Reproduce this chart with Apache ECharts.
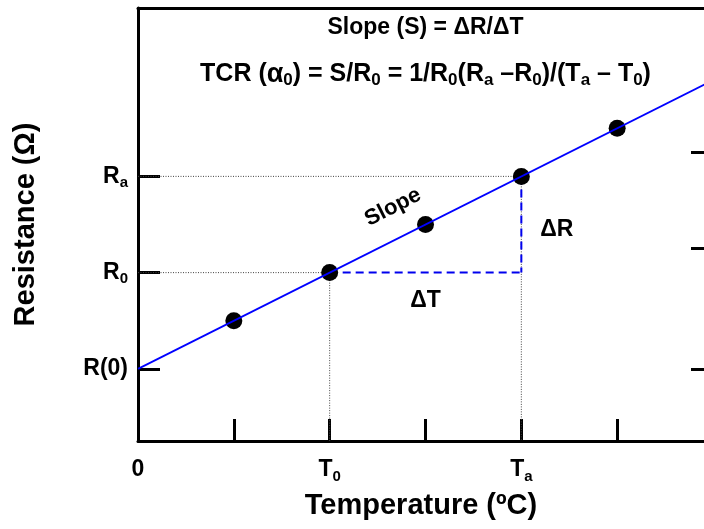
<!DOCTYPE html>
<html>
<head>
<meta charset="utf-8">
<script src="https://cdn.jsdelivr.net/npm/echarts@6/dist/echarts.min.js"></script>
<style>
  html, body { margin: 0; padding: 0; background: #fff; }
  #chart { width: 704px; height: 529px; }
</style>
</head>
<body>
<div id="chart"></div>
<script>
// Measured resistance at each temperature step
var temps = [1, 2, 3, 4, 5];
var resistances = [1.25, 1.75, 2.25, 2.75, 3.25];

// Linear fit end points
var fitTemps = [0, 6];
var fitResistances = [0.75, 3.75];

// Reference temperatures and resistances
var T0 = 2, Ta = 4;
var R0 = 1.75, Ra = 2.75, Rzero = 0.75;

// Tick positions and their labels
var xTicks = [0, 1, 2, 3, 4, 5, 6];
var xLabelValues = [0, T0, Ta];
var xLabelText = ['{m|0}', '{m|T}{s|0}', '{m|T}{s|a}'];
var yLabelValues = [Rzero, R0, Ra];
var yLabelText = ['{m|R(0)}', '{m|R}{s|0}', '{m|R}{s|a}'];
var rightTicks = [0.75, 2.0, 3.0];

var FONT = 'Liberation Sans, Arial, sans-serif';
var subRich = {
  m: { fontFamily: FONT, fontSize: 23, fontWeight: 'bold', color: '#000', lineHeight: 28 },
  s: { fontFamily: FONT, fontSize: 15, fontWeight: 'bold', color: '#000', lineHeight: 14, verticalAlign: 'bottom' }
};
var formulaRich = {
  g: { fontFamily: FONT, fontSize: 27, fontWeight: 'bold', color: '#000', lineHeight: 28 },
  s: { fontFamily: FONT, fontSize: 17, fontWeight: 'bold', color: '#000', lineHeight: 15, verticalAlign: 'bottom' }
};

function pairs(xs, ys) { return xs.map(function (x, i) { return [x, ys[i]]; }); }

var chart = echarts.init(document.getElementById('chart'), null, { renderer: 'canvas' });

var axisLineStyle = { color: '#000', width: 3 };
var guideStyle = { color: '#444', width: 1, type: [1, 1.5] };
var legStyle = { color: '#0000ee', width: 2, type: [8, 5] };

function noteSeries(x, y, text, extra) {
  return {
    type: 'scatter',
    symbolSize: 0,
    silent: true,
    z: 5,
    itemStyle: { opacity: 1 },
    data: [[x, y]],
    label: Object.assign({
      show: true,
      position: 'inside',
      formatter: text,
      fontFamily: FONT,
      fontSize: 23,
      fontWeight: 'bold',
      color: '#000',
      lineHeight: 28,
      rich: subRich
    }, extra || {})
  };
}

function guide(a, b, style, z) {
  return { type: 'line', symbol: 'none', silent: true, z: z, data: [a, b], lineStyle: style };
}

var option = {
  animation: false,
  backgroundColor: '#fff',
  grid: { left: 138, right: 0, top: 8, bottom: 88 },
  xAxis: [{
    type: 'value',
    min: 0, max: 5.906,
    name: 'Temperature (ºC)',
    nameLocation: 'middle',
    nameGap: 50,
    nameTextStyle: { fontFamily: FONT, fontSize: 29, fontWeight: 'bold', color: '#000' },
    axisLine: { show: true, lineStyle: axisLineStyle },
    axisTick: { show: true, inside: true, length: 22, customValues: xTicks, lineStyle: { color: '#000', width: 3 } },
    axisLabel: {
      show: true,
      margin: 15,
      customValues: xLabelValues,
      formatter: function (v) { return xLabelText[xLabelValues.indexOf(v)]; },
      fontFamily: FONT, fontSize: 23, fontWeight: 'bold', color: '#000',
      rich: subRich
    },
    splitLine: { show: false }
  }, {
    type: 'value',
    position: 'top',
    min: 0, max: 5.906,
    axisLine: { show: true, onZero: false, lineStyle: axisLineStyle },
    axisTick: { show: false },
    axisLabel: { show: false },
    splitLine: { show: false }
  }],
  yAxis: [{
    type: 'value',
    min: 0, max: 4.5,
    name: 'Resistance (Ω)',
    nameLocation: 'middle',
    nameGap: 98,
    nameTextStyle: { fontFamily: FONT, fontSize: 29, fontWeight: 'bold', color: '#000' },
    axisLine: { show: true, lineStyle: axisLineStyle },
    axisTick: { show: true, inside: true, length: 22, customValues: yLabelValues, lineStyle: { color: '#000', width: 3 } },
    axisLabel: {
      show: true,
      margin: 10,
      customValues: yLabelValues,
      formatter: function (v) { return yLabelText[yLabelValues.indexOf(v)]; },
      fontFamily: FONT, fontSize: 23, fontWeight: 'bold', color: '#000',
      rich: subRich
    },
    splitLine: { show: false }
  }, {
    type: 'value',
    position: 'right',
    min: 0, max: 4.5,
    axisLine: { show: false, onZero: false },
    axisTick: { show: true, inside: true, length: 13, customValues: rightTicks, lineStyle: { color: '#000', width: 3 } },
    axisLabel: { show: false },
    splitLine: { show: false }
  }],
  series: [
    // dotted guides from the axes to the reference points
    guide([0, Ra], [Ta, Ra], guideStyle, 1),
    guide([0, R0], [T0, R0], guideStyle, 1),
    guide([T0, R0], [T0, 0], guideStyle, 1),
    guide([Ta, Ra], [Ta, 0], guideStyle, 1),
    // ΔT and ΔR legs
    guide([T0, R0], [Ta, R0], legStyle, 2),
    guide([Ta, Ra], [Ta, R0], legStyle, 2),
    // measurements
    { type: 'scatter', symbol: 'circle', symbolSize: 17, z: 3, itemStyle: { color: '#000', opacity: 1 }, data: pairs(temps, resistances) },
    // fitted line
    { type: 'line', symbol: 'none', z: 4, data: pairs(fitTemps, fitResistances), lineStyle: { color: '#0000ff', width: 1.8 } },
    // annotations
    noteSeries(3, 4.30, 'Slope (S) = ΔR/ΔT', { fontSize: 23 }),
    noteSeries(3, 3.81, 'TCR ({g|α}{s|0}) = S/R{s|0} = 1/R{s|0}(R{s|a} –R{s|0})/(T{s|a} – T{s|0})', { fontSize: 25, rich: formulaRich }),
    noteSeries(2.66, 2.43, 'Slope', { rotate: 27, fontSize: 22 }),
    noteSeries(4.37, 2.20, 'ΔR'),
    noteSeries(3.0, 1.46, 'ΔT')
  ]
};

chart.setOption(option);
</script>
</body>
</html>
